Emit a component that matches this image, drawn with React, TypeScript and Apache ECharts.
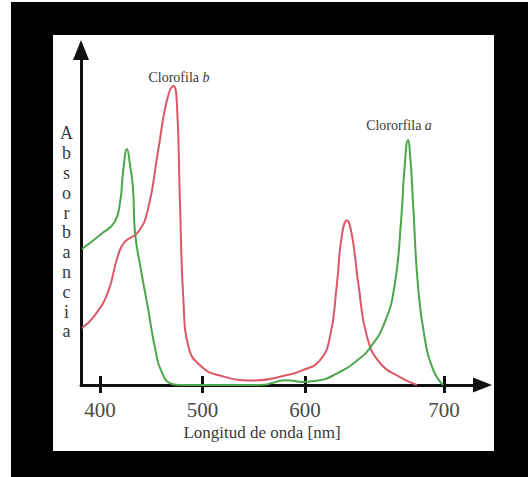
import React, { useEffect, useRef } from "react";
import * as echarts from "echarts";

// Tick labels (nm) of the wavelength axis
const wavelengthTicks = [400, 500, 600, 700];

// Chlorophyll b (red) – wavelength [nm] and absorbance (arbitrary units)
const chlBWavelength = [382.4, 394.1, 407.5, 417.4, 424.0, 437.1, 446.8, 456.6, 465.1, 471.6, 474.9, 478.0, 481.5, 486.4, 499.5, 516.1, 548.8, 581.5, 598.0, 610.8, 618.0, 622.8, 626.5, 630.1, 633.8, 638.6, 644.6, 654.3, 668.3, 680.5];
const chlBAbsorbance = [16.5, 19.9, 26.7, 37.4, 41.4, 44.3, 51.0, 67.7, 82.3, 86.7, 82.3, 53.0, 23.8, 11.0, 5.2, 2.8, 1.3, 2.8, 4.3, 7.2, 14.0, 28.7, 43.3, 47.7, 43.3, 28.7, 14.0, 6.2, 2.3, 0];

// Chlorophyll a (green)
const chlAWavelength = [382.4, 400.0, 414.1, 419.5, 422.7, 426.3, 429.3, 432.2, 434.1, 440.0, 446.8, 453.7, 460.1, 470.0, 478.0, 557.1, 581.5, 598.0, 608.3, 622.8, 637.8, 647.1, 657.2, 664.4, 669.2, 671.6, 674.1, 675.9, 677.7, 681.3, 686.0, 692.3, 699.3];
const chlAAbsorbance = [39.4, 43.5, 47.2, 52.8, 62.3, 68.4, 63.8, 57.0, 44.4, 33.3, 22.3, 10.7, 3.8, 0.3, 0, 0, 1.4, 0.9, 1.2, 3.3, 7.2, 11.0, 18.0, 28.7, 48.1, 62.9, 71.0, 65.2, 53.0, 28.7, 13.9, 4.3, 0];

// The original figure's wavelength axis is not evenly spaced: calibrated tick positions
const TICK_POS = [0, 102.5, 205, 344];

function warp(nm: number): number {
  const t = wavelengthTicks;
  let i = 0;
  if (nm <= t[0]) i = 0;
  else if (nm >= t[t.length - 1]) i = t.length - 2;
  else {
    while (i < t.length - 2 && nm > t[i + 1]) i++;
  }
  const f = (nm - t[i]) / (t[i + 1] - t[i]);
  return TICK_POS[i] + f * (TICK_POS[i + 1] - TICK_POS[i]);
}

const SERIF = "Liberation Serif";

export default function App() {
  const ref = useRef<HTMLDivElement | null>(null);

  useEffect(() => {
    if (!ref.current) return;
    const chart = echarts.init(ref.current, undefined, { renderer: "svg" });

    const bData = chlBWavelength.map((w, i) => [warp(w), chlBAbsorbance[i]]);
    const aData = chlAWavelength.map((w, i) => [warp(w), chlAAbsorbance[i]]);
    const tickVals = wavelengthTicks.map((w) => warp(w));

    const axisColor = "#111";
    const textColor = "#3a3a3a";

    chart.setOption({
      animation: false,
      backgroundColor: "#ffffff",
      textStyle: { fontFamily: SERIF },
      grid: { left: 81, right: 45.5, top: 50, bottom: 92 },
      xAxis: [
        {
          type: "value",
          min: -19,
          max: 382.5,
          axisLine: {
            show: true,
            onZero: false,
            lineStyle: { color: axisColor, width: 3 },
            symbol: ["none", "triangle"],
            symbolSize: [15, 19],
          },
          axisTick: {
            show: true,
            inside: false,
            length: 8,
            lineStyle: { color: axisColor, width: 3 },
            customValues: tickVals,
          },
          axisLabel: {
            show: true,
            customValues: tickVals,
            formatter: (v: number) => {
              let best = 0;
              for (let i = 1; i < tickVals.length; i++) {
                if (Math.abs(tickVals[i] - v) < Math.abs(tickVals[best] - v)) best = i;
              }
              return String(wavelengthTicks[best]);
            },
            fontSize: 21,
            fontFamily: SERIF,
            color: "#4a4a4a",
            margin: 14,
          },
          splitLine: { show: false },
        },
        {
          type: "value",
          position: "bottom",
          min: -19,
          max: 382.5,
          axisLine: { show: false, onZero: false },
          axisTick: {
            show: true,
            inside: true,
            length: 9,
            lineStyle: { color: axisColor, width: 3 },
            customValues: tickVals,
          },
          axisLabel: { show: false },
          splitLine: { show: false },
        },
      ],
      yAxis: {
        type: "value",
        min: 0,
        max: 97.1,
        axisLine: {
          show: true,
          onZero: false,
          lineStyle: { color: axisColor, width: 3 },
          symbol: ["none", "triangle"],
          symbolSize: [16, 20],
        },
        axisTick: { show: false },
        axisLabel: { show: false },
        splitLine: { show: false },
      },
      series: [
        {
          name: "Clorofila b",
          type: "line",
          xAxisIndex: 0,
          data: bData,
          showSymbol: false,
          smooth: 0.5,
          lineStyle: { color: "#dc5866", width: 2 },
          z: 3,
        },
        {
          name: "Clorofila a",
          type: "line",
          xAxisIndex: 0,
          data: aData,
          showSymbol: false,
          smooth: 0.5,
          lineStyle: { color: "#4ca64c", width: 2 },
          z: 3,
        },
      ],
      graphic: [
        {
          type: "rect",
          z: -20,
          shape: { x: 11, y: 2, width: 517, height: 475 },
          style: { fill: "#000" },
          silent: true,
        },
        {
          type: "rect",
          z: -19,
          shape: { x: 53, y: 35, width: 441, height: 416 },
          style: { fill: "#fff" },
          silent: true,
        },
        {
          type: "text",
          z: 10,
          style: {
            text: "{n|Clorofila }{i|b}",
            x: 179,
            y: 77,
            align: "center",
            verticalAlign: "middle",
            fontFamily: SERIF,
            fontSize: 14,
            fill: textColor,
            rich: {
              n: { fontFamily: SERIF, fontSize: 14, fill: textColor },
              i: { fontFamily: SERIF, fontSize: 14, fontStyle: "italic", fill: textColor },
            },
          },
        },
        {
          type: "text",
          z: 10,
          style: {
            text: "{n|Clororfila }{i|a}",
            x: 399,
            y: 125,
            align: "center",
            verticalAlign: "middle",
            fontFamily: SERIF,
            fontSize: 14,
            fill: textColor,
            rich: {
              n: { fontFamily: SERIF, fontSize: 14, fill: textColor },
              i: { fontFamily: SERIF, fontSize: 14, fontStyle: "italic", fill: textColor },
            },
          },
        },
        {
          type: "text",
          z: 10,
          style: {
            text: "A\nb\ns\no\nr\nb\na\nn\nc\ni\na",
            x: 66.5,
            y: 123.5,
            align: "center",
            verticalAlign: "top",
            fontFamily: SERIF,
            fontSize: 18,
            lineHeight: 19.8,
            fill: textColor,
          },
        },
        {
          type: "text",
          z: 10,
          style: {
            text: "Longitud de onda [nm]",
            x: 262,
            y: 432,
            align: "center",
            verticalAlign: "middle",
            fontFamily: SERIF,
            fontSize: 17,
            fill: textColor,
          },
        },
      ],
    });

    return () => chart.dispose();
  }, []);

  return (
    <div
      ref={ref}
      style={{ position: "fixed", left: 0, top: 0, width: 528, height: 477, background: "#fff" }}
    />
  );
}
